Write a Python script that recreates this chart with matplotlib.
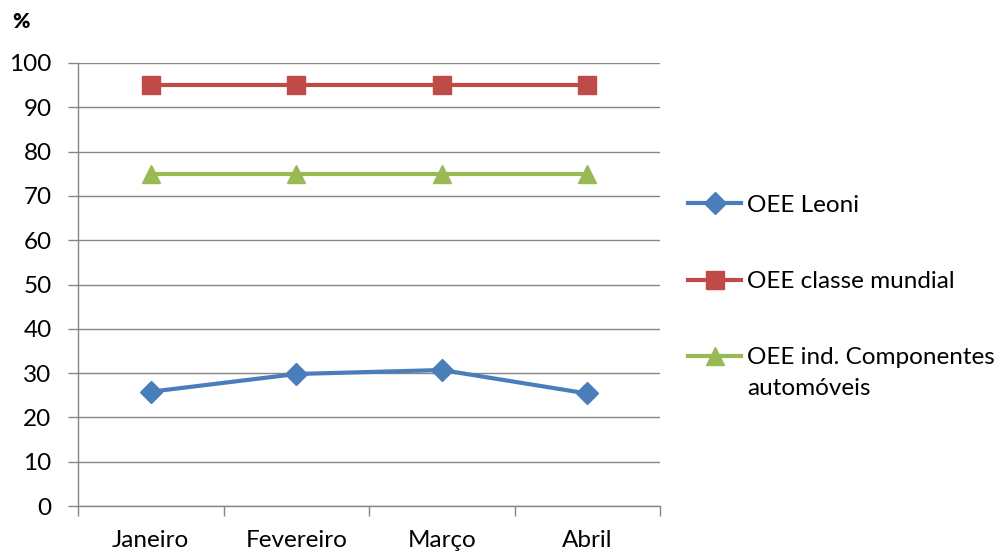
import numpy as np
import matplotlib
import matplotlib.pyplot as plt

matplotlib.rc('font', family=['Lato', 'DejaVu Sans'], size=17.5)

meses = ['Janeiro', 'Fevereiro', 'Março', 'Abril']
oee_leoni = [25.8, 29.8, 30.7, 25.4]
oee_mundial = [95, 95, 95, 95]
oee_componentes = [75, 75, 75, 75]

azul = '#4A7EBB'
vermelho = '#BE4B48'
verde = '#98B954'
cinza = '#868686'

fig = plt.figure(figsize=(10, 5.54), dpi=100)
ax = fig.add_axes([0.078, 0.0866, 0.582, 0.7997])

x = np.arange(len(meses))
ax.plot(x, oee_leoni, '-D', color=azul, lw=3, ms=11, label='OEE Leoni')
ax.plot(x, oee_mundial, '-s', color=vermelho, lw=3, ms=12.5, label='OEE classe mundial')
ax.plot(x, oee_componentes, '-^', color=verde, lw=3, ms=13.5,
        label='OEE ind. Componentes')

ax.set_xlim(-0.5, len(meses) - 0.5)
ax.set_ylim(0, 100)
ax.set_yticks(range(0, 101, 10))
ax.set_xticks(x)
ax.set_xticklabels(meses)
ax.set_xticks(np.arange(-0.5, len(meses)), minor=True)
ax.tick_params(axis='x', which='major', length=0, pad=17)
ax.tick_params(axis='x', which='minor', length=7, color=cinza, width=1)
ax.tick_params(axis='y', length=7, color=cinza, width=1, pad=12)

ax.grid(axis='y', color=cinza, lw=1)
ax.set_axisbelow(True)
for lado in ['top', 'right']:
    ax.spines[lado].set_visible(False)
for lado in ['left', 'bottom']:
    ax.spines[lado].set_color(cinza)
    ax.spines[lado].set_linewidth(1)

leg = ax.legend(loc='upper left', bbox_to_anchor=(1.048, 0.703), frameon=False,
                handlelength=2.2, handletextpad=0.25, labelspacing=2.28,
                borderaxespad=0, borderpad=0)

# segunda linha da terceira entrada da legenda
fig.canvas.draw()
bb = leg.get_texts()[2].get_window_extent().transformed(fig.transFigure.inverted())
fig.text(bb.x0, bb.y0 - 0.018, 'automóveis', va='top', ha='left')

fig.text(0.012, 0.962, '%', fontweight='heavy', fontsize=15, va='center')

plt.savefig('out.png', dpi=100)
